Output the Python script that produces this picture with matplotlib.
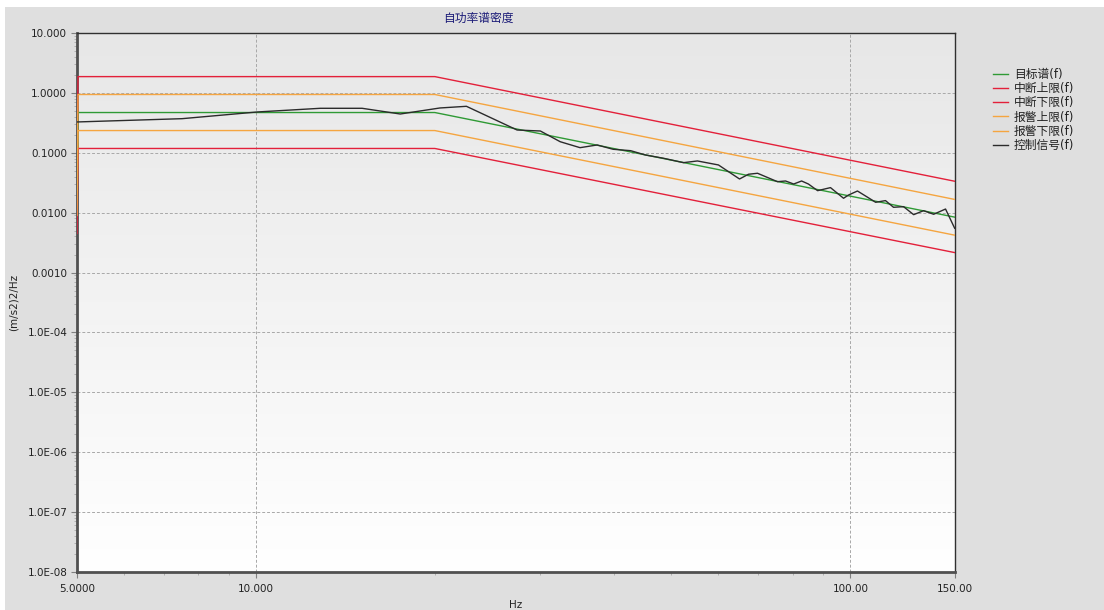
import matplotlib
matplotlib.use("Agg")
import matplotlib.pyplot as plt
import numpy as np
from matplotlib.patches import Rectangle
from matplotlib.ticker import FixedLocator, FixedFormatter, LogLocator, NullFormatter

plt.rcParams["font.family"] = ["DejaVu Sans", "Noto Sans CJK SC"]

# 参考谱断点 (Hz) 与各条限值曲线
freq = [5.0, 5.02, 20.0, 150.0]
target = [0.02, 0.47, 0.47, 0.0084]
abort_hi = [0.07, 1.87, 1.87, 0.0334]
abort_lo = [0.0045, 0.118, 0.118, 0.00215]
alarm_hi = [0.035, 0.94, 0.94, 0.0166]
alarm_lo = [0.009, 0.235, 0.235, 0.0042]

# 控制信号
ctrl_freq = [5.0, 7.51, 10.05, 12.83, 15.09, 17.49, 20.4, 22.6, 27.5, 30.1, 32.5,
             35.1, 37.5, 39.9, 42.7, 45.2, 48.5, 52.4, 55.3, 60.0, 65.1, 67.4,
             69.8, 75.4, 77.8, 80.3, 82.8, 85.0, 88.1, 92.6, 97.4, 99.3, 102.8,
             106.9, 110.3, 114.6, 118.2, 122.9, 127.8, 132.8, 138.1, 144.6, 149.8]
ctrl_psd = [0.327, 0.371, 0.480, 0.553, 0.553, 0.444, 0.560, 0.597, 0.240, 0.231, 0.153,
            0.1217, 0.135, 0.1144, 0.1084, 0.0919, 0.0810, 0.0684, 0.0730, 0.0626, 0.0365, 0.0438,
            0.0455, 0.0329, 0.0338, 0.0301, 0.0338, 0.0301, 0.0233, 0.0262, 0.0174, 0.0197, 0.0230,
            0.0181, 0.0149, 0.0159, 0.0123, 0.0126, 0.00926, 0.0108, 0.0094, 0.0115, 0.0055]

x_ticks = [5, 10, 100, 150]
x_labels = ["5.0000", "10.000", "100.00", "150.00"]
y_ticks = [1e-8, 1e-7, 1e-6, 1e-5, 1e-4, 1e-3, 1e-2, 1e-1, 1, 10]
y_labels = ["1.0E-08", "1.0E-07", "1.0E-06", "1.0E-05", "1.0E-04",
            "0.0010", "0.0100", "0.1000", "1.0000", "10.000"]

W, H = 1104, 610
fig = plt.figure(figsize=(W / 100, H / 100), dpi=100)
fig.patch.set_facecolor("#dfdfdf")
# 窗口边缘的白色条
fig.add_artist(Rectangle((0, 1 - 7 / H), 1, 7 / H, transform=fig.transFigure,
                         facecolor="white", edgecolor="none", zorder=0))
fig.add_artist(Rectangle((0, 0), 5 / W, 1, transform=fig.transFigure,
                         facecolor="white", edgecolor="none", zorder=0))

left, right, top, bottom = 77, 955, 33, 572
ax = fig.add_axes([left / W, 1 - bottom / H, (right - left) / W, (bottom - top) / H])
ax.set_xscale("log")
ax.set_yscale("log")
ax.set_xlim(5, 150)
ax.set_ylim(1e-8, 10)

# 绘图区渐变背景
grad = np.linspace(1.0, 0.0, 256).reshape(-1, 1)
ax.imshow(grad, extent=[0, 1, 0, 1], transform=ax.transAxes, aspect="auto",
          cmap=matplotlib.colors.LinearSegmentedColormap.from_list("bg", ["#ffffff", "#e7e7e7"]),
          zorder=0, interpolation="bicubic")

lw = 1.0
ax.plot(freq, target, color="#2f9a35", lw=lw, label="目标谱(f)", zorder=3)
ax.plot(freq, abort_hi, color="#e3203a", lw=lw, label="中断上限(f)", zorder=3)
ax.plot(freq, abort_lo, color="#e3203a", lw=lw, label="中断下限(f)", zorder=3)
ax.plot(freq, alarm_hi, color="#f5a540", lw=lw, label="报警上限(f)", zorder=3)
ax.plot(freq, alarm_lo, color="#f5a540", lw=lw, label="报警下限(f)", zorder=3)
ax.plot(ctrl_freq, ctrl_psd, color="#2b2b2b", lw=lw, label="控制信号(f)", zorder=4)

ax.xaxis.set_major_locator(FixedLocator(x_ticks))
ax.xaxis.set_major_formatter(FixedFormatter(x_labels))
ax.xaxis.set_minor_locator(LogLocator(subs=np.arange(2, 10)))
ax.xaxis.set_minor_formatter(NullFormatter())
ax.yaxis.set_major_locator(FixedLocator(y_ticks))
ax.yaxis.set_major_formatter(FixedFormatter(y_labels))
ax.yaxis.set_minor_locator(LogLocator(subs=np.arange(2, 10), numticks=20))
ax.yaxis.set_minor_formatter(NullFormatter())

ax.tick_params(which="major", length=4, width=0.8, color="#808080",
               labelsize=7.5, labelcolor="#222222", pad=3)
ax.tick_params(which="minor", length=2, width=0.6, color="#a8a8a8")
ax.tick_params(axis="x", which="major", pad=5)

ax.grid(True, which="major", color="#a8a8a8", linestyle=(0, (3, 2)), lw=0.7, zorder=1)
ax.set_axisbelow(True)

for side in ("left", "bottom"):
    ax.spines[side].set_color("#505050")
    ax.spines[side].set_linewidth(2.0)
for side in ("top", "right"):
    ax.spines[side].set_color("#303030")
    ax.spines[side].set_linewidth(1.0)

ax.set_xlabel("Hz", fontsize=7.5, color="#222222")
ax.xaxis.set_label_coords(0.5, -(600 - bottom) / (bottom - top))
ax.set_ylabel("(m/s2)2/Hz", fontsize=7.5, color="#222222")
ax.yaxis.set_label_coords(-(left - 19) / (right - left), 0.5)

fig.text(478 / W, 1 - 18 / H, "自功率谱密度", ha="center", va="center",
         fontsize=8.5, color="#1c1c78")

ax.legend(loc="upper left", bbox_to_anchor=(993 / W, 1 - 68 / H),
          bbox_transform=fig.transFigure, frameon=False, fontsize=8.5,
          handlelength=1.3, handletextpad=0.45, labelspacing=0.1,
          borderpad=0, borderaxespad=0, labelcolor="#222222")

fig.savefig("out.png", dpi=100, facecolor=fig.get_facecolor())
